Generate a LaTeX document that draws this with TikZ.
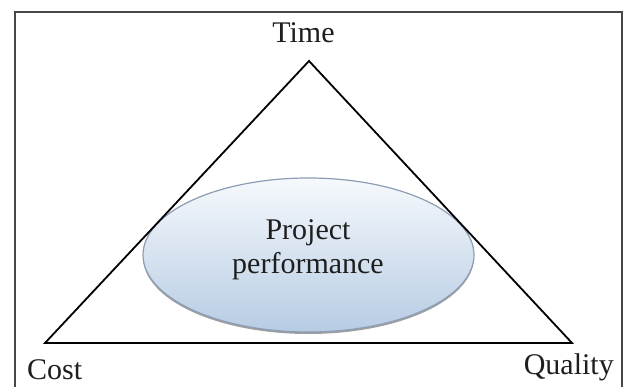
\documentclass[tikz,border=0pt]{standalone}
\usepackage{fontspec}
\setmainfont{Liberation Serif}
\usetikzlibrary{shapes.geometric}
\definecolor{ellbot}{HTML}{B7CCE4}
\definecolor{elltop}{HTML}{F6F9FC}
\definecolor{elledge}{HTML}{8C9DB4}
\definecolor{txt}{HTML}{1E1E1E}
\begin{document}
\begin{tikzpicture}[x=1pt,y=-1pt,
  lbl/.style={inner sep=0pt, text=txt, font=\fontsize{30}{35}\selectfont},
  frameline/.style={draw=black!72, line width=1.6pt},
  triline/.style={draw=black, line width=1.8pt, line join=miter},
  perf/.style={ellipse, draw=elledge, line width=1.2pt,
     top color=elltop, bottom color=ellbot,
     minimum width=331pt, minimum height=154pt, inner sep=0pt,
     align=center, text=txt, font=\fontsize{30}{35}\selectfont}]
\useasboundingbox (0,0) rectangle (624,387);
\fill[white] (0,0) rectangle (624,387);
% frame
\coordinate (fbl) at (15,387);
\coordinate (ftl) at (15,12);
\coordinate (ftr) at (622,12);
\coordinate (fbr) at (622,387);
\draw[frameline] (fbl) -- (ftl) -- (ftr) -- (fbr);
% ellipse shadow
\fill[gray!75] (308.5,257) ellipse [x radius=165.5pt, y radius=77pt];
% ellipse
\node[perf] (pp) at (308.5,255) {};
\node[lbl, anchor=base] (proj) at (308,240) {Project};
\node[lbl, anchor=base] (perfo) at (308,274) {performance};
% triangle vertices
\coordinate (apex) at (309,61);
\coordinate (bl) at (45,343);
\coordinate (br) at (572,343);
\draw[triline] (apex) -- (bl) -- (br) -- cycle;
% labels
\node[lbl, anchor=base] (time) at (303.5,43) {Time};
\node[lbl, anchor=base west] (cost) at (27,380) {Cost};
\node[lbl, anchor=base east] (qual) at (614,374) {Quality};
\end{tikzpicture}
\end{document}
